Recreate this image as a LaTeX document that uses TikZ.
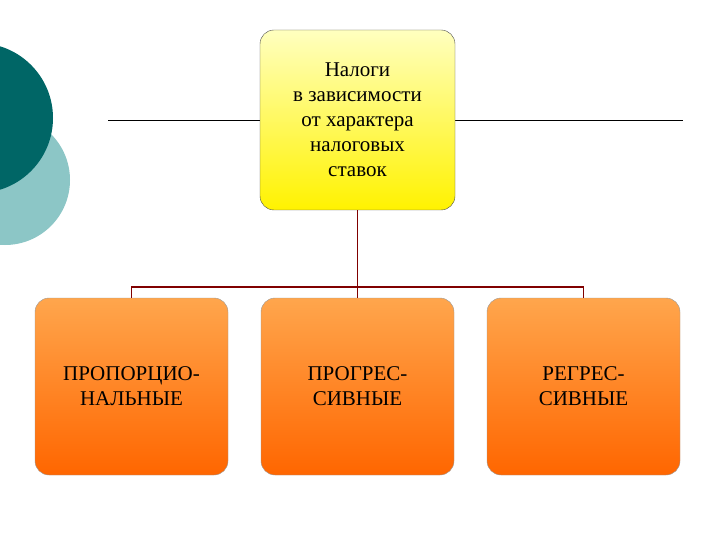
\documentclass[tikz,border=0pt]{standalone}
\usepackage{fontspec}
\setmainfont{Liberation Serif}
\begin{document}
\begin{tikzpicture}[x=1pt,y=-1pt,
  topbox/.style={draw=black!70,rounded corners=14pt,top color=yellow!25,bottom color=yellow!90!orange,minimum width=195pt,minimum height=180pt,align=center,font=\fontsize{21}{25}\selectfont,inner sep=0pt},
  lowbox/.style={draw=black!40,rounded corners=14pt,top color=orange!70!white,bottom color=orange!80!red,minimum width=193pt,minimum height=177pt,align=center,font=\fontsize{21}{25}\selectfont,inner sep=0pt},
  link/.style={draw=red!50!black,line width=1.5pt}]
\useasboundingbox (0,0) rectangle (720,540);
\fill[teal!45!white] (5,180) circle (65);
\fill[teal!80!black] (-22,118) circle (75);
\draw[black] (108,120) -- (683,120);
\node[topbox] (t) at (357.5,120) {Налоги\\в зависимости\\от характера\\налоговых\\ставок};
\node[lowbox] (a) at (131.5,386.5) {ПРОПОРЦИО-\\НАЛЬНЫЕ};
\node[lowbox] (b) at (357.5,386.5) {ПРОГРЕС-\\СИВНЫЕ};
\node[lowbox] (c) at (583.5,386.5) {РЕГРЕС-\\СИВНЫЕ};
\coordinate (m) at (357.5,287);
\draw[link] (t.south) -- (m);
\draw[link] (a.north) -- (a.north |- m) -- (c.north |- m) -- (c.north);
\draw[link] (m) -- (b.north);
\end{tikzpicture}
\end{document}
